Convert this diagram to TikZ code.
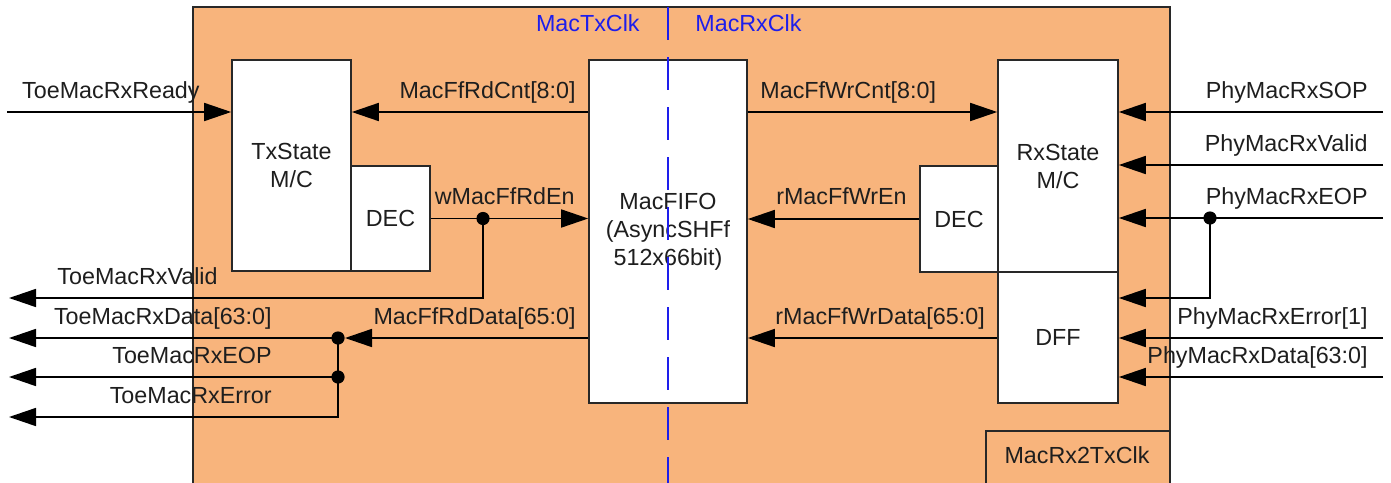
\documentclass[tikz,border=0pt]{standalone}
\usepackage{fontspec}
\setmainfont{Liberation Sans}
\usetikzlibrary{arrows.meta}
\definecolor{macorange}{RGB}{248,180,124}
\definecolor{clkblue}{RGB}{30,30,235}
\definecolor{edge}{RGB}{40,40,40}
\definecolor{ink}{RGB}{30,30,30}
\begin{document}
\begin{tikzpicture}[x=0.5pt,y=-0.5pt,
  every node/.style={font=\fontsize{11.65pt}{14pt}\selectfont, text=ink},
  blk/.style={draw=edge, fill=white, line width=0.8pt, inner sep=0pt, align=center},
  sig/.style={line width=0.8pt, draw=black},
  arr/.style={sig, -{Triangle[length=13.5pt,width=9pt]}},
  tag/.style={inner sep=0pt},
  dot/.style={circle, fill=black, inner sep=0pt, minimum size=6.6pt},
  clktag/.style={inner sep=0pt, text=clkblue}]

\useasboundingbox (0,0) rectangle (1391,482);
\clip (0,0) rectangle (1391,482);

% module outline and clock-domain block
\draw[draw=edge, fill=macorange, line width=0.8pt] (193,7) rectangle (1170,500);
\draw[draw=edge, line width=0.8pt] (986,431) rectangle (1170,500);
\node (rx2tx) at (1077,455) {MacRx2TxClk};

% functional blocks
\node[blk, minimum width=59.5pt, minimum height=105.5pt] (txsm) at (291.5,165.5) {TxState\\M/C};
\node[blk, minimum width=39.5pt, minimum height=52.5pt] (txdec) at (390.5,218.5) {DEC};
\node[blk, minimum width=79pt, minimum height=171.5pt] (fifo) at (668,231.5) {MacFIFO\\(AsyncSHFf\\512x66bit)};
\node[blk, minimum width=60pt, minimum height=106pt] (rxsm) at (1058,166) {RxState\\M/C};
\node[blk, minimum width=39pt, minimum height=53pt] (rxdec) at (959,219) {DEC};
\node[blk, minimum width=60pt, minimum height=65.5pt] (dff) at (1058,337.5) {DFF};

% port ends
\coordinate (inReady) at (7,112);
\coordinate (outValid) at (9,298);
\coordinate (outData) at (9,338);
\coordinate (outEOP) at (9,377);
\coordinate (outErr) at (9,417);
\coordinate (inSOP) at (1383,112);
\coordinate (inValid) at (1383,165);
\coordinate (inEOP) at (1383,218);
\coordinate (inErr) at (1383,338);
\coordinate (inData) at (1383,377);

% junction dots
\node[dot] (dRdEn) at (483,218.5) {};
\node[dot] (dData) at (338,338) {};
\node[dot] (dEOP) at (338,377) {};
\node[dot] (dPEOP) at (1210,218) {};

% transmit side
\draw[arr] (inReady) -- (inReady -| txsm.west);
\draw[arr] (fifo.west |- inReady) -- (txsm.east |- inReady);
\draw[arr] (txdec.east) -- (fifo.west |- txdec.east);
\draw[arr] (dRdEn.center) |- (outValid);
\draw[arr] (fifo.west |- dData) -- (dData);
\draw[arr] (dData.center) -- (outData);
\draw[arr] (dEOP.center) -- (outEOP);
\draw[arr] (dData.center) |- (outErr);

% receive side
\draw[arr] (fifo.east |- inReady) -- (rxsm.west |- inReady);
\draw[arr] (rxdec.west) -- (fifo.east |- rxdec.west);
\draw[arr] (dff.west |- dData) -- (fifo.east |- dData);
\draw[arr] (inSOP) -- (inSOP -| rxsm.east);
\draw[arr] (inValid) -- (inValid -| rxsm.east);
\draw[arr] (inEOP) -- (inEOP -| rxsm.east);
\draw[arr] (dPEOP.center) |- (dff.east |- outValid);
\draw[arr] (inErr) -- (inErr -| dff.east);
\draw[arr] (inData) -- (inData -| dff.east);

% signal names
\node[tag, anchor=base east] (lReady) at (200,98.5) {ToeMacRxReady};
\node[tag, anchor=base east] (lRdCnt) at (576,98.5) {MacFfRdCnt[8:0]};
\node[tag, anchor=base east] (lRdEn) at (575,204.5) {wMacFfRdEn};
\node[tag, anchor=base east] (lRdData) at (576,324.5) {MacFfRdData[65:0]};
\node[tag, anchor=base west] (lWrCnt) at (760,98.5) {MacFfWrCnt[8:0]};
\node[tag, anchor=base east] (lWrEn) at (907,204.5) {rMacFfWrEn};
\node[tag, anchor=base west] (lWrData) at (775,324.5) {rMacFfWrData[65:0]};
\node[tag, anchor=base east] (lValid) at (218,284.5) {ToeMacRxValid};
\node[tag, anchor=base east] (lData) at (272,324.5) {ToeMacRxData[63:0]};
\node[tag, anchor=base east] (lEOP) at (272,363.5) {ToeMacRxEOP};
\node[tag, anchor=base east] (lErr) at (272,403.5) {ToeMacRxError};
\node[tag, anchor=base east] (lSOP) at (1368,98.5) {PhyMacRxSOP};
\node[tag, anchor=base east] (lPValid) at (1368,151.5) {PhyMacRxValid};
\node[tag, anchor=base east] (lPEOP) at (1368,204.5) {PhyMacRxEOP};
\node[tag, anchor=base east] (lPErr) at (1368,324.5) {PhyMacRxError[1]};
\node[tag, anchor=base east] (lPData) at (1368,363.5) {PhyMacRxData[63:0]};

% clock-domain boundary
\node[clktag, anchor=base east] (txclk) at (640,32) {MacTxClk};
\node[clktag, anchor=base west] (rxclk) at (695,32) {MacRxClk};
\coordinate (clkTop) at (668,7);
\coordinate (clkBot) at (668,500);
\draw[clkblue, line width=1pt, dash pattern=on 16.5pt off 8.5pt] (clkTop) -- (clkBot);
\end{tikzpicture}
\end{document}
